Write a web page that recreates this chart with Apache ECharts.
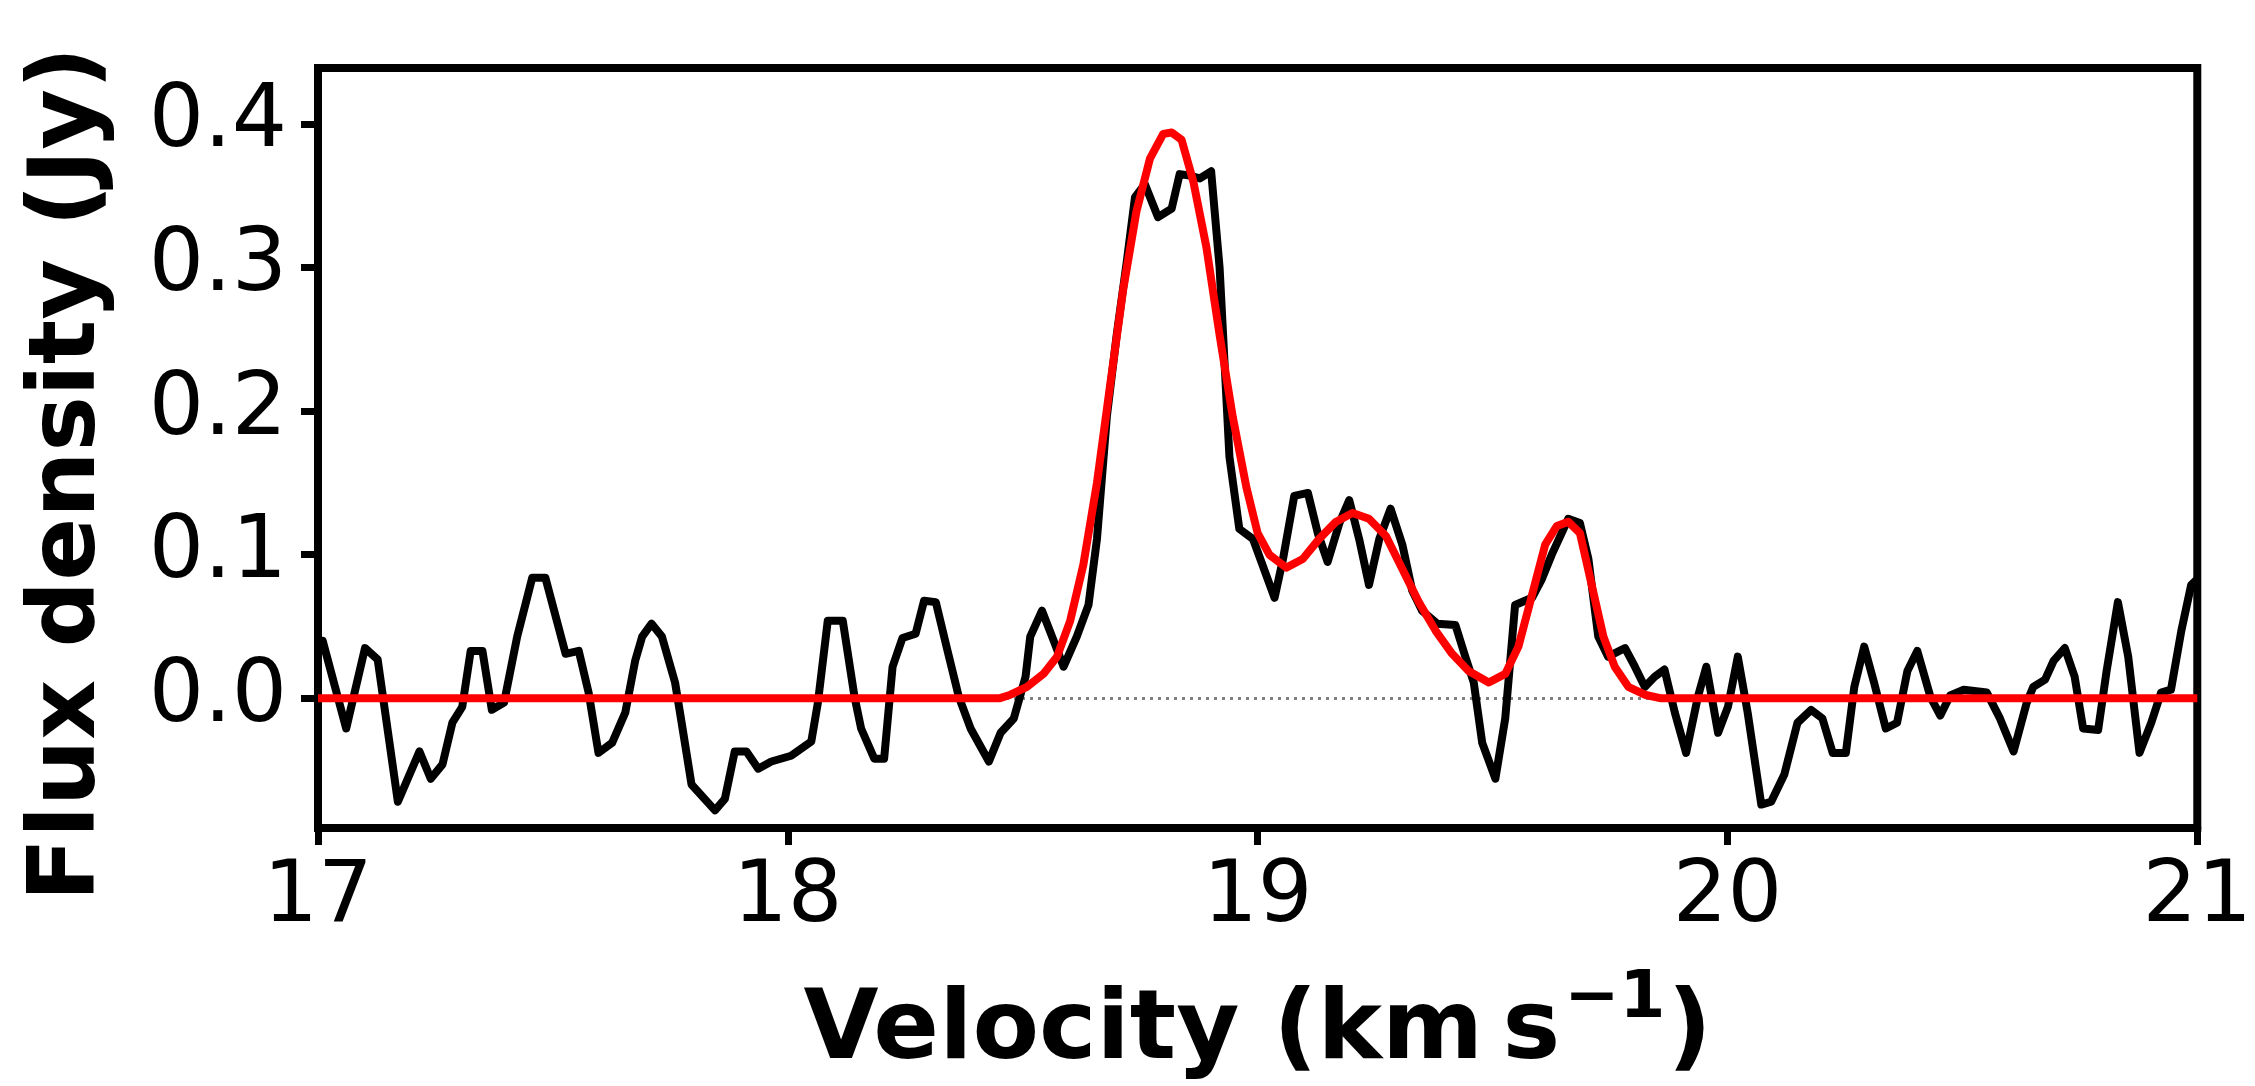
<!DOCTYPE html>
<html>
<head>
<meta charset="utf-8">
<script src="https://cdn.jsdelivr.net/npm/echarts@6/dist/echarts.min.js"></script>
<style>
html,body{margin:0;padding:0;background:#fff;}
#chart{width:2255px;height:1086px;}
</style>
</head>
<body>
<div id="chart"></div>
<script>
// Observed spectrum (black)
const velocity = [17.00,17.01,17.06,17.10,17.127,17.17,17.216,17.24,17.265,17.286,17.307,17.325,17.35,17.37,17.396,17.424,17.456,17.484,17.527,17.555,17.576,17.597,17.626,17.654,17.675,17.69,17.71,17.732,17.76,17.774,17.795,17.845,17.866,17.887,17.912,17.937,17.965,18.007,18.05,18.064,18.085,18.117,18.142,18.156,18.184,18.205,18.223,18.244,18.272,18.29,18.315,18.34,18.364,18.389,18.428,18.453,18.481,18.506,18.516,18.541,18.566,18.587,18.615,18.64,18.658,18.679,18.70,18.721,18.739,18.76,18.788,18.817,18.834,18.855,18.877,18.901,18.919,18.94,18.961,18.99,19.036,19.054,19.078,19.107,19.128,19.149,19.174,19.195,19.216,19.237,19.259,19.283,19.308,19.329,19.35,19.382,19.421,19.442,19.46,19.478,19.506,19.527,19.548,19.584,19.605,19.626,19.661,19.686,19.704,19.725,19.746,19.782,19.803,19.824,19.845,19.866,19.888,19.912,19.937,19.955,19.98,20.001,20.022,20.043,20.072,20.093,20.121,20.149,20.178,20.202,20.224,20.252,20.27,20.291,20.312,20.337,20.361,20.383,20.404,20.432,20.453,20.474,20.503,20.552,20.58,20.609,20.637,20.651,20.676,20.694,20.718,20.739,20.757,20.789,20.807,20.831,20.853,20.877,20.902,20.923,20.944,20.966,20.987,21.0];
const flux = [0.040,0.040,-0.021,0.035,0.027,-0.072,-0.037,-0.056,-0.046,-0.017,-0.006,0.033,0.033,-0.008,-0.003,0.043,0.084,0.084,0.031,0.033,0.004,-0.038,-0.031,-0.010,0.026,0.043,0.052,0.043,0.011,-0.017,-0.060,-0.078,-0.070,-0.037,-0.037,-0.049,-0.044,-0.040,-0.030,-0.003,0.054,0.054,0.001,-0.021,-0.042,-0.042,0.022,0.042,0.045,0.068,0.067,0.033,0.001,-0.021,-0.044,-0.024,-0.014,0.015,0.043,0.061,0.040,0.022,0.043,0.065,0.111,0.196,0.253,0.303,0.349,0.358,0.335,0.341,0.365,0.364,0.362,0.367,0.300,0.168,0.118,0.111,0.070,0.097,0.141,0.143,0.115,0.095,0.122,0.138,0.111,0.079,0.111,0.132,0.107,0.075,0.061,0.052,0.051,0.029,0.011,-0.031,-0.056,-0.014,0.065,0.070,0.083,0.100,0.125,0.122,0.097,0.043,0.029,0.035,0.022,0.008,0.015,0.020,-0.010,-0.038,0.001,0.022,-0.024,-0.006,0.029,-0.010,-0.074,-0.072,-0.053,-0.017,-0.008,-0.014,-0.038,-0.038,0.008,0.036,0.011,-0.021,-0.017,0.019,0.033,0.001,-0.012,0.002,0.006,0.004,-0.014,-0.037,-0.003,0.008,0.013,0.026,0.035,0.015,-0.021,-0.022,0.019,0.067,0.029,-0.038,-0.017,0.004,0.006,0.047,0.079,0.083];

// Fitted model (red)
const fitVelocity = [17.0,18.45,18.474,18.509,18.544,18.573,18.601,18.629,18.658,18.686,18.714,18.742,18.771,18.799,18.817,18.838,18.863,18.891,18.919,18.947,18.976,19.0,19.025,19.061,19.096,19.131,19.167,19.202,19.237,19.273,19.308,19.343,19.379,19.414,19.449,19.492,19.527,19.555,19.584,19.612,19.637,19.661,19.686,19.711,19.736,19.76,19.789,19.824,19.859,21.0];
const fitFlux = [0,0,0.0025,0.008,0.017,0.029,0.054,0.093,0.150,0.218,0.285,0.339,0.376,0.393,0.394,0.389,0.360,0.314,0.253,0.196,0.147,0.115,0.100,0.091,0.097,0.111,0.123,0.129,0.125,0.113,0.090,0.067,0.047,0.031,0.019,0.011,0.017,0.036,0.072,0.107,0.120,0.123,0.115,0.079,0.043,0.022,0.008,0.0025,0,0];

// Axes
const xTicks = [17, 18, 19, 20, 21];
const yTicks = [0.0, 0.1, 0.2, 0.3, 0.4];
const xRange = [17, 21];
const yRange = [-0.0903, 0.4389];
const zeroLevel = 0;

const FONT = 'DejaVu Sans';
const chart = echarts.init(document.getElementById('chart'), null, {renderer: 'canvas'});

const spectrumData = velocity.map((v, i) => [v, flux[i]]);
const fitData = fitVelocity.map((v, i) => [v, fitFlux[i]]);

chart.setOption({
  animation: false,
  backgroundColor: '#ffffff',
  grid: {
    left: 318, top: 68, right: 52, bottom: 256,
    show: true, borderColor: '#000', borderWidth: 8, backgroundColor: 'transparent'
  },
  xAxis: {
    type: 'value',
    min: xRange[0], max: xRange[1], interval: 1,
    axisLine: {show: true, onZero: false, lineStyle: {color: '#000', width: 8}},
    axisTick: {show: true, length: 17, lineStyle: {color: '#000', width: 7}, customValues: xTicks},
    axisLabel: {
      show: true, margin: 28, color: '#000', fontFamily: FONT, fontSize: 86,
      customValues: xTicks, formatter: v => String(v)
    },
    splitLine: {show: false},
    name: '{a|Velocity (km\u2009s}{b|\u22121}{a|)}',
    nameLocation: 'middle',
    nameGap: 156,
    nameTextStyle: {
      rich: {
        a: {fontFamily: FONT, fontWeight: 'bold', fontSize: 97, lineHeight: 97, color: '#000'},
        b: {fontFamily: FONT, fontWeight: 'bold', fontSize: 66, height: 32, lineHeight: 32, verticalAlign: 'top', color: '#000', padding: [0, 2, 0, 4]}
      }
    }
  },
  yAxis: {
    type: 'value',
    min: yRange[0], max: yRange[1],
    axisLine: {show: true, onZero: false, lineStyle: {color: '#000', width: 8}},
    axisTick: {show: true, length: 17, lineStyle: {color: '#000', width: 7}, customValues: yTicks},
    axisLabel: {
      show: true, margin: 31, color: '#000', fontFamily: FONT, fontSize: 87,
      customValues: yTicks, formatter: v => v.toFixed(1)
    },
    splitLine: {show: false}
  },
  graphic: [{
    type: 'text',
    x: 70, y: 474,
    rotation: Math.PI / 2,
    style: {
      text: 'Flux density (Jy)',
      fontFamily: FONT, fontWeight: 'bold', fontSize: 93,
      fill: '#000', align: 'center', verticalAlign: 'middle'
    }
  }],
  series: [
    {
      type: 'line',
      data: spectrumData,
      showSymbol: false,
      symbol: 'none',
      lineStyle: {color: '#000', width: 8, join: 'round'},
      z: 3,
      markLine: {
        silent: true, symbol: 'none', label: {show: false},
        lineStyle: {color: '#808080', width: 3, type: [3, 5]},
        data: [{yAxis: zeroLevel}],
        z: 1
      }
    },
    {
      type: 'line',
      data: fitData,
      showSymbol: false,
      symbol: 'none',
      lineStyle: {color: '#ff0000', width: 8, join: 'round'},
      z: 4
    }
  ]
});
</script>
</body>
</html>
